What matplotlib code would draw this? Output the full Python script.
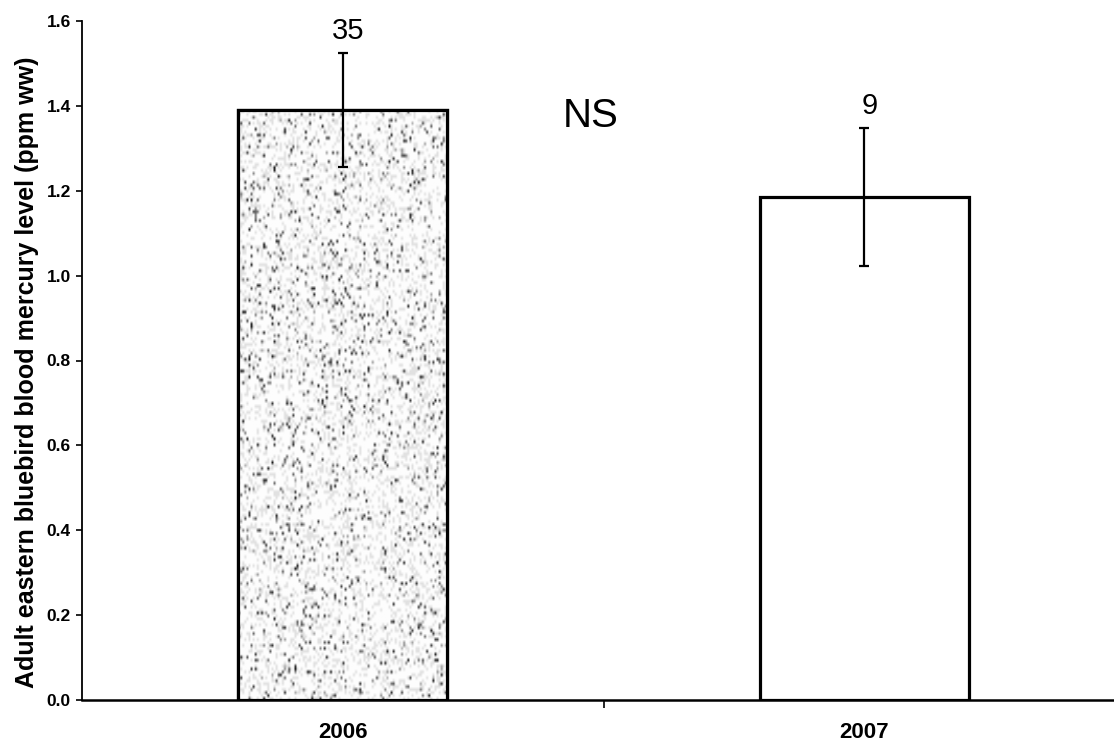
import numpy as np
import matplotlib
matplotlib.use('Agg')
import matplotlib.pyplot as plt

# Blood mercury in adult eastern bluebirds, by year
years = ['2006', '2007']
means = [1.39, 1.185]
errors = [0.135, 0.163]
sample_sizes = ['35', '9']

plt.rcParams['font.family'] = ['Liberation Sans', 'DejaVu Sans']

FIG_SIZE = (11.14, 7.45)
DPI = 100

fig = plt.figure(figsize=FIG_SIZE, dpi=DPI)
# axes run slightly past the right edge, like the original x-axis line
ax = fig.add_axes([82 / 1114, 45 / 745, (1125 - 82) / 1114, (700 - 21) / 745])

x = np.arange(len(years))
bars = ax.bar(x, means, width=0.4, color=['#e6e6e6', 'white'],
              edgecolor='black', linewidth=2.3, zorder=2)

# speckled fill for the 2006 bar
rng = np.random.default_rng(7)
noise = rng.random((200, 100))
speck = np.where(noise > 0.92, 0.1 + 0.6 * (noise - 0.92) / 0.08, 0.99)
speck[(noise > 0.7) & (noise <= 0.92)] = 0.88
b0 = bars[0]
img = ax.imshow(speck, cmap='gray', vmin=0, vmax=1, aspect='auto',
                interpolation='bilinear', zorder=2.5,
                extent=(b0.get_x(), b0.get_x() + b0.get_width(), 0, means[0]))
img.set_clip_path(b0)
ax.bar(x[:1], means[:1], width=0.4, color='none', edgecolor='black',
       linewidth=2.3, zorder=3)

ax.errorbar(x, means, yerr=errors, fmt='none', ecolor='black',
            elinewidth=1.6, capsize=3.6, capthick=1.6, zorder=4)

for xi, m, e, n in zip(x, means, errors, sample_sizes):
    ax.text(xi + 0.01, m + e + 0.018, n, ha='center', va='bottom',
            fontsize=21, zorder=5)

ax.text(0.475, 1.375, 'NS', ha='center', va='center', fontsize=29)

ax.set_xlim(-0.5, 1.5)
ax.set_ylim(0, 1.6)
ax.set_yticks(np.arange(0, 1.61, 0.2))
ax.set_yticklabels([f'{v:.1f}' for v in np.arange(0, 1.61, 0.2)],
                   fontsize=12.5, fontweight='bold')
ax.set_xticks(x)
ax.set_xticklabels(years, fontsize=16, fontweight='bold')
ax.set_xticks([0.5], minor=True)
ax.tick_params(axis='x', which='major', length=0, pad=16)
ax.tick_params(axis='x', which='minor', length=6, width=1.2, direction='out')
ax.tick_params(axis='y', length=4, width=1.2, direction='out', pad=4)

ax.set_ylabel('Adult eastern bluebird blood mercury level (ppm ww)',
              fontsize=18, fontweight='bold')
ax.yaxis.set_label_coords(-0.041, 0.483)

ax.spines['top'].set_visible(False)
ax.spines['right'].set_visible(False)
ax.spines['left'].set_linewidth(1.3)
ax.spines['bottom'].set_linewidth(1.8)

fig.savefig('out.png', dpi=DPI, facecolor='white')
